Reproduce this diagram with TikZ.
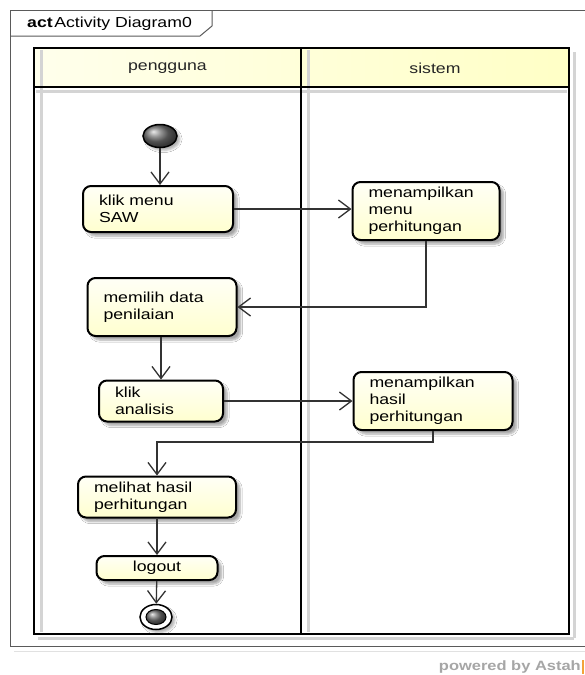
\documentclass[tikz,border=0pt]{standalone}
\usepackage{fontspec}
\setmainfont{Liberation Sans}[FakeStretch=1.22]
\usetikzlibrary{arrows.meta,shapes.geometric,shadows.blur,calc}

\definecolor{nodetop}{HTML}{FFFFF6}
\definecolor{nodebot}{HTML}{FFFFCF}
\definecolor{hdrleft}{HTML}{FFFFEC}
\definecolor{hdrright}{HTML}{FFFFC6}
\definecolor{framegray}{HTML}{5A5A5A}
\definecolor{lanegray}{HTML}{D4D4D4}
\definecolor{astahorange}{HTML}{F2A33A}

\begin{document}
\begin{tikzpicture}[x=1pt,y=-1pt,
  every node/.style={font=\fontsize{14.5}{17}\selectfont},
  actbox/.style={draw=black, line width=2pt, rounded corners=8pt,
    align=left, inner xsep=16pt, inner ysep=0pt,
    top color=nodetop, bottom color=nodebot,
    blur shadow={shadow xshift=4pt, shadow yshift=-4pt,
      shadow blur steps=6, shadow opacity=35}},
  flow/.style={draw=black!80, line width=1.3pt,
    -{Straight Barb[length=12pt,width=18pt,line width=1.3pt]}},
  ballnode/.style={ellipse, draw=black, line width=1.5pt, inner sep=0pt,
    shading=ball, ball color=black!55},
  lanelabel/.style={inner sep=0pt, text=black!85},
]
% page
\fill[white] (0,0) rectangle (585,675);
\useasboundingbox (0,0) rectangle (585,675);

% diagram frame with its name tab
\draw[lanegray!70, line width=1pt] (14,651) -- (585,651);
\draw[framegray, line width=1pt] (585,10) -- (10,10) -- (10,646) -- (585,646);
\draw[framegray, line width=1pt] (10,36) -- (200,36) -- (212,26) -- (212,10);
\node[anchor=west, inner sep=0pt] (title) at (27,24)
  {\textbf{act}\hspace{1.5pt}Activity Diagram0};

% swimlanes
\shade[left color=hdrleft, right color=hdrright] (34,48) rectangle (569,87);
\draw[lanegray, line width=3pt] (41,50) -- (41,632);
\draw[lanegray, line width=3pt] (308,50) -- (308,632);
\draw[lanegray, line width=3pt] (574,52) -- (574,638);
\draw[lanegray, line width=3pt] (36,91) -- (567,91);
\draw[lanegray, line width=3pt] (38,638) -- (574,638);
\draw[black, line width=2.5pt] (34,48) rectangle (569,634);
\draw[black, line width=2.5pt] (34,87) -- (569,87);
\draw[black, line width=2.5pt] (301,48) -- (301,634);
\node[lanelabel] (lane1) at (167.5,68) {pengguna};
\node[lanelabel] (lane2) at (435,68) {sistem};

% actions
\node[ballnode, minimum width=34pt, minimum height=23pt,
  blur shadow={shadow xshift=3pt, shadow yshift=-3pt, shadow opacity=30}]
  (start) at (160,136) {};
\node[actbox, text width=118pt, minimum height=46pt] (klik) at (158,209)
  {klik menu\\SAW};
\node[actbox, text width=115pt, minimum height=58pt] (tampil1) at (426,211)
  {menampilkan\\menu\\perhitungan};
\node[actbox, text width=117pt, minimum height=58pt] (pilih) at (162,307)
  {memilih data\\penilaian};
\node[actbox, text width=92pt, minimum height=41pt] (analisis) at (161,401)
  {klik\\analisis};
\node[actbox, text width=127pt, minimum height=58pt] (tampil2) at (433,401)
  {menampilkan\\hasil\\perhitungan};
\node[actbox, text width=126pt, minimum height=41pt] (lihat) at (157,497)
  {melihat hasil\\perhitungan};
\node[actbox, align=center, text width=89pt, minimum height=24pt] (logout)
  at (157,568) {logout};
\node[ellipse, draw=black, line width=1.5pt, fill=white, inner sep=0pt,
  minimum width=32pt, minimum height=25pt,
  blur shadow={shadow xshift=3pt, shadow yshift=-3pt, shadow opacity=30}]
  (end) at (156,617) {};
\node[ballnode, line width=1pt, minimum width=20pt, minimum height=15pt]
  (endcore) at (end) {};

% control flows
\coordinate (turn) at (157,442);
\draw[flow] (start) -- (start |- klik.north);
\draw[flow] (klik.east) -- (klik.east -| tampil1.west);
\draw[flow] (tampil1.south) |- (pilih.east);
\draw[flow] (pilih.south -| analisis) -- (analisis.north);
\draw[flow] (analisis.east) -- (analisis.east -| tampil2.west);
\draw[flow] (tampil2.south) |- (turn) -- (lihat.north);
\draw[flow] (lihat) -- (logout);
\draw[flow] (logout) -- (end);

% tool mark
\node[anchor=east, inner sep=0pt, text=black!35,
  font=\fontsize{13.5}{15}\selectfont\bfseries] (mark) at (581,667)
  {powered by Astah};
\fill[astahorange] (581.5,660) rectangle (584,674);
\end{tikzpicture}
\end{document}
